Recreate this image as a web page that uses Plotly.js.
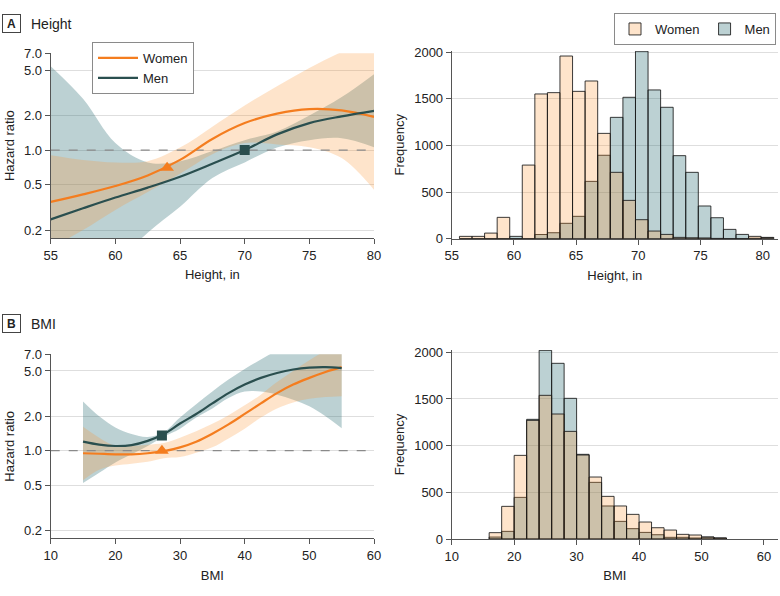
<!DOCTYPE html>
<html>
<head>
<meta charset="utf-8">
<script src="https://cdn.plot.ly/plotly-3.0.1.min.js"></script>
<style>html,body{margin:0;padding:0;background:#fff;}#chart{width:780px;height:596px;}</style>
</head>
<body>
<div id="chart"></div>
<script>
// ---------- Panel A: Height, hazard ratio splines ----------
const heightX      = [55, 57.5, 60, 62.5, 65, 67.5, 70, 72.5, 75, 77.5, 80];
const womenHR_H    = [0.353, 0.41, 0.485, 0.60, 0.82, 1.25, 1.72, 2.08, 2.28, 2.22, 1.95];
const womenLo_H    = [0.14, 0.2, 0.3, 0.43, 0.62, 0.92, 1.15, 1.12, 1.06, 0.85, 0.45];
const womenHi_H    = [0.9, 0.82, 0.78, 0.8, 1.05, 1.6, 2.45, 3.6, 5.2, 7.2, 9.5];
const menHR_H      = [0.248, 0.31, 0.385, 0.47, 0.585, 0.76, 1.0, 1.37, 1.72, 1.97, 2.2];
const menLo_H      = [0.03, 0.05, 0.1, 0.19, 0.32, 0.57, 0.78, 1.05, 1.22, 1.27, 1.06];
const menHi_H      = [5.4, 2.8, 1.15, 0.78, 0.8, 0.98, 1.22, 1.45, 2.0, 2.9, 4.6];
const womenRef_H   = {x: 64, y: 0.70};
const menRef_H     = {x: 70, y: 1.0};
const heightAxisRange = [55, 80];

// ---------- Panel B: BMI, hazard ratio splines ----------
const bmiX         = [15, 17.5, 20, 22.5, 25, 27.5, 30, 32.5, 35, 37.5, 40, 42.5, 45, 47.5, 50, 52.5, 55];
const womenHR_B    = [0.95, 0.94, 0.93, 0.93, 0.95, 0.99, 1.07, 1.2, 1.41, 1.7, 2.1, 2.6, 3.2, 3.8, 4.35, 4.9, 5.4];
const womenLo_B    = [0.55, 0.68, 0.74, 0.77, 0.8, 0.86, 0.88, 0.96, 1.07, 1.28, 1.56, 1.95, 2.35, 2.65, 2.85, 2.95, 3.0];
const womenHi_B    = [1.62, 1.3, 1.1, 1.1, 1.13, 1.17, 1.3, 1.48, 1.72, 2.05, 2.5, 3.1, 4.0, 5.0, 6.2, 7.5, 8.5];
const menHR_B      = [1.2, 1.13, 1.1, 1.12, 1.22, 1.4, 1.73, 2.1, 2.6, 3.2, 3.8, 4.35, 4.8, 5.15, 5.35, 5.4, 5.3];
const menLo_B      = [0.52, 0.64, 0.79, 0.93, 1.1, 1.33, 1.56, 1.95, 2.35, 2.9, 3.3, 3.3, 3.1, 2.8, 2.45, 2.0, 1.57];
const menHi_B      = [2.7, 2.0, 1.6, 1.4, 1.32, 1.45, 1.95, 2.55, 3.3, 4.2, 5.2, 6.3, 7.6, 9.0, 9.5, 9.5, 9.5];
const womenRef_B   = {x: 27.2, y: 1.0};
const menRef_B     = {x: 27.2, y: 1.36};
const bmiAxisRange = [10, 60];

// ---------- Histograms ----------
const heightBins   = [56.13, 57.14, 58.15, 59.16, 60.17, 61.18, 62.19, 63.20, 64.21, 65.22, 66.23, 67.24, 68.26,
                      69.27, 70.28, 71.29, 72.30, 73.31, 74.32, 75.33, 76.34, 77.35, 78.36, 79.37, 80.38];
const womenHeightN  = [25, 25, 60, 229, 0, 790, 1553, 1567, 1960, 1581, 1692, 1130, 712,
                      411, 204, 82, 46, 14, 10, 8, 3, 0, 0, 25, 10];
const menHeightN    = [0, 0, 0, 0, 25, 0, 45, 64, 165, 240, 615, 895, 1302,
                      1517, 2011, 1596, 1410, 891, 712, 351, 225, 100, 46, 5, 14];
const bmiBins      = [17, 19, 21, 23, 25, 27, 29, 31, 33, 35, 37, 39, 41, 43, 45, 47, 49, 51, 53];
const womenBmiN    = [68, 350, 896, 1271, 1539, 1339, 1153, 900, 664, 457, 354, 264, 182, 121, 96, 50, 43, 21, 11];
const menBmiN      = [21, 82, 446, 1282, 2021, 1882, 1507, 907, 607, 354, 189, 111, 71, 46, 18, 18, 11, 21, 11];

const hrTicks   = [0.2, 0.5, 1, 2, 5, 7];
const hrLabels  = ['0.2', '0.5', '1.0', '2.0', '5.0', '7.0'];

// ---------- Styles ----------
const ORANGE = '#f47d1f';
const TEAL   = '#2a4f4f';
const ORANGE_FILL = 'rgba(251,147,47,0.25)';
const TEAL_FILL   = 'rgba(32,102,108,0.30)';
const BAR_LINE    = 'rgba(25,25,25,0.85)';

function band(x, lo, hi, fill, xa, ya) {
  return [
    {x: x, y: lo, xaxis: xa, yaxis: ya, type: 'scatter', mode: 'lines',
     line: {width: 0, shape: 'spline', smoothing: 1}, showlegend: false, hoverinfo: 'skip'},
    {x: x, y: hi, xaxis: xa, yaxis: ya, type: 'scatter', mode: 'lines', fill: 'tonexty', fillcolor: fill,
     line: {width: 0, shape: 'spline', smoothing: 1}, showlegend: false, hoverinfo: 'skip'}
  ];
}
function curve(x, y, color, name, xa, ya, legendOn) {
  return {x: x, y: y, xaxis: xa, yaxis: ya, type: 'scatter', mode: 'lines', name: name,
          line: {color: color, width: 2.2, shape: 'spline', smoothing: 1},
          showlegend: legendOn, legend: 'legend', legendrank: name === 'Women' ? 1 : 2};
}
function refMarker(p, color, symbol, size, xa, ya) {
  return {x: [p.x], y: [p.y], xaxis: xa, yaxis: ya, type: 'scatter', mode: 'markers',
          marker: {color: color, symbol: symbol, size: size, line: {width: 0}}, showlegend: false};
}
function refLine(range, xa, ya) {
  return {x: range, y: [1, 1], xaxis: xa, yaxis: ya, type: 'scatter', mode: 'lines',
          line: {color: '#8a8a8a', width: 1.3, dash: 'dash'}, showlegend: false, hoverinfo: 'skip'};
}
function bars(x, y, color, name, xa, ya, width, legendOn) {
  return {x: x, y: y, xaxis: xa, yaxis: ya, type: 'bar', name: name, width: width,
          marker: {color: color, line: {color: BAR_LINE, width: 1}},
          showlegend: legendOn, legend: 'legend2', legendrank: name === 'Women' ? 1 : 2};
}

const data = [].concat(
  band(heightX, menLo_H, menHi_H, TEAL_FILL, 'x', 'y'),
  band(heightX, womenLo_H, womenHi_H, ORANGE_FILL, 'x', 'y'),
  [refLine(heightAxisRange, 'x', 'y'),
   curve(heightX, womenHR_H, ORANGE, 'Women', 'x', 'y', true),
   curve(heightX, menHR_H, TEAL, 'Men', 'x', 'y', true),
   refMarker(womenRef_H, ORANGE, 'triangle-up', 12, 'x', 'y'),
   refMarker(menRef_H, TEAL, 'square', 10, 'x', 'y')],
  [bars(heightBins, menHeightN, TEAL_FILL, 'Men', 'x2', 'y2', 1.011, true),
   bars(heightBins, womenHeightN, ORANGE_FILL, 'Women', 'x2', 'y2', 1.011, true)],
  band(bmiX, menLo_B, menHi_B, TEAL_FILL, 'x3', 'y3'),
  band(bmiX, womenLo_B, womenHi_B, ORANGE_FILL, 'x3', 'y3'),
  [refLine(bmiAxisRange, 'x3', 'y3'),
   curve(bmiX, womenHR_B, ORANGE, 'Women', 'x3', 'y3', false),
   curve(bmiX, menHR_B, TEAL, 'Men', 'x3', 'y3', false),
   refMarker(womenRef_B, ORANGE, 'triangle-up', 12, 'x3', 'y3'),
   refMarker(menRef_B, TEAL, 'square', 10, 'x3', 'y3')],
  [bars(bmiBins, menBmiN, TEAL_FILL, 'Men', 'x4', 'y4', 2, false),
   bars(bmiBins, womenBmiN, ORANGE_FILL, 'Women', 'x4', 'y4', 2, false)]
);

const AXLINE = '#555';
const GRID = '#dedede';
function xAx(domain, anchor, range, tickvals, title) {
  return {domain: domain, anchor: anchor, range: range, tickvals: tickvals, showgrid: false, zeroline: false,
          showline: true, linecolor: AXLINE, linewidth: 1, ticks: 'outside', ticklen: 5, tickcolor: AXLINE,
          tickfont: {size: 13}, title: {text: title, font: {size: 13}, standoff: 8}, automargin: false, fixedrange: true};
}
function yLog(domain, anchor) {
  return {domain: domain, anchor: anchor, type: 'log', range: [-0.768, 0.845], tickvals: hrTicks, ticktext: hrLabels,
          showgrid: true, gridcolor: GRID, gridwidth: 1, zeroline: false, showline: true, linecolor: AXLINE,
          ticks: 'outside', ticklen: 5, tickcolor: AXLINE, tickfont: {size: 13},
          title: {text: 'Hazard ratio', font: {size: 13}, standoff: 6}, automargin: false, fixedrange: true};
}
function yFreq(domain, anchor, range) {
  return {domain: domain, anchor: anchor, range: range, tickvals: [0, 500, 1000, 1500, 2000],
          showgrid: true, gridcolor: GRID, gridwidth: 1, zeroline: false, showline: true, linecolor: AXLINE,
          ticks: 'outside', ticklen: 5, tickcolor: AXLINE, tickfont: {size: 13},
          title: {text: 'Frequency', font: {size: 13}, standoff: 6}, automargin: false, fixedrange: true};
}

const layout = {
  width: 780, height: 596,
  margin: {l: 0, r: 0, t: 0, b: 0},
  paper_bgcolor: '#ffffff', plot_bgcolor: '#ffffff',
  font: {family: 'Liberation Sans, Arial, sans-serif', size: 13, color: '#222'},
  barmode: 'overlay',
  hovermode: false,
  showlegend: true,
  xaxis:  xAx([0.065, 0.4795], 'y', heightAxisRange, [55, 60, 65, 70, 75, 80], 'Height, in'),
  yaxis:  yLog([0.6007, 0.9106], 'x'),
  xaxis2: xAx([0.5791, 0.9974], 'y2', [55, 81.23], [55, 60, 65, 70, 75, 80], 'Height, in'),
  yaxis2: yFreq([0.5995, 0.9146], 'x2', [0, 2015]),
  xaxis3: xAx([0.065, 0.4795], 'y3', bmiAxisRange, [10, 20, 30, 40, 50, 60], 'BMI'),
  yaxis3: yLog([0.0968, 0.4055], 'x3'),
  xaxis4: xAx([0.5791, 0.9974], 'y4', [10, 62.24], [10, 20, 30, 40, 50, 60], 'BMI'),
  yaxis4: yFreq([0.0956, 0.4128], 'x4', [0, 2025]),
  legend: {x: 92 / 780, y: (596 - 42) / 596, xanchor: 'left', yanchor: 'top', bgcolor: '#ffffff',
           bordercolor: '#8a8a8a', borderwidth: 1, itemwidth: 40, font: {size: 13}, tracegroupgap: 0,
           traceorder: 'normal'},
  legend2: {x: 776 / 780, y: (596 - 13) / 596, xanchor: 'right', yanchor: 'top', orientation: 'h',
            bgcolor: '#ffffff', bordercolor: '#8a8a8a', borderwidth: 1, font: {size: 13},
            itemwidth: 30, traceorder: 'normal'},
  annotations: [
    {xref: 'paper', yref: 'paper', x: 11.5 / 780, y: (596 - 23.5) / 596, xanchor: 'center', yanchor: 'middle',
     text: '<b>A</b>', showarrow: false, font: {size: 12, color: '#222'}, bordercolor: '#444', borderwidth: 1,
     width: 17, height: 17, borderpad: 0},
    {xref: 'paper', yref: 'paper', x: 29 / 780, y: (596 - 23.5) / 596, xanchor: 'left', yanchor: 'middle',
     text: 'Height', showarrow: false, font: {size: 14, color: '#222'}},
    {xref: 'paper', yref: 'paper', x: 11.5 / 780, y: (596 - 323.5) / 596, xanchor: 'center', yanchor: 'middle',
     text: '<b>B</b>', showarrow: false, font: {size: 12, color: '#222'}, bordercolor: '#444', borderwidth: 1,
     width: 17, height: 17, borderpad: 0},
    {xref: 'paper', yref: 'paper', x: 29 / 780, y: (596 - 323.5) / 596, xanchor: 'left', yanchor: 'middle',
     text: 'BMI', showarrow: false, font: {size: 14, color: '#222'}}
  ]
};

Plotly.newPlot('chart', data, layout, {displayModeBar: false, staticPlot: true});
</script>
</body>
</html>
